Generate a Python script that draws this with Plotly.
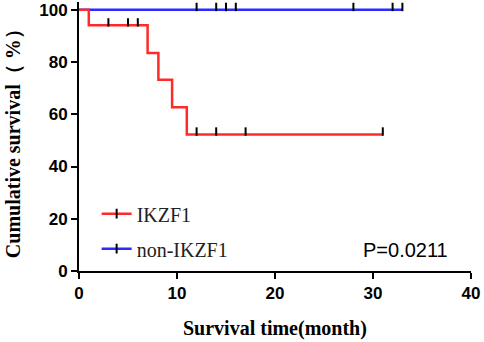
import numpy as np
import plotly.graph_objects as go

# ---- data ----
ikzf1_time = [0, 1, 7, 8.1, 9.5, 11, 31]
ikzf1_surv = [100, 94.1, 83.5, 73.2, 62.7, 52.3, 52.3]
ikzf1_censor = [3, 5, 6, 12, 14, 17, 31]

non_time = [0, 33]
non_surv = [100, 100]
non_censor = [12, 14, 15, 16, 28, 32, 33]

x_ticks = [0, 10, 20, 30, 40]
y_ticks = [0, 20, 40, 60, 80, 100]
p_text = "P=0.0211"
x_title = "Survival time(month)"
y_title = "Cumulative survival（ %）"

RED = "#FF2B2B"
BLUE = "#2B2BFF"
TICK_RISE = 1.1  # censor tick drawn just above the curve


def step_value(times, surv, t):
    idx = np.searchsorted(np.array(times), t, side="right") - 1
    return surv[idx]


fig = go.Figure()

# curves (blue first so red is on top)
for times, surv, cens, col in [
    (non_time, non_surv, non_censor, BLUE),
    (ikzf1_time, ikzf1_surv, ikzf1_censor, RED),
]:
    fig.add_trace(go.Scatter(
        x=times, y=surv, mode="lines", line=dict(color=col, width=2.5, shape="hv"),
        showlegend=False, cliponaxis=False, hoverinfo="skip"))
    cy = [step_value(times, surv, t) + TICK_RISE for t in cens]
    fig.add_trace(go.Scatter(
        x=cens, y=cy, mode="markers",
        marker=dict(symbol="line-ns", size=6, line=dict(color="black", width=2)),
        showlegend=False, cliponaxis=False, hoverinfo="skip"))

# legend entries
for name, col in [("IKZF1", RED), ("non-IKZF1", BLUE)]:
    fig.add_trace(go.Scatter(
        x=[None], y=[None], mode="lines+markers", name=name, legendgroup=name,
        line=dict(color=col, width=2.5),
        marker=dict(symbol="line-ns", size=7, line=dict(color="black", width=2))))

fig.add_annotation(x=33.3, y=8, xref="x", yref="y", text=p_text, showarrow=False,
                   font=dict(family="Liberation Sans, Arial", size=20, color="black"))

title_font = dict(family="Liberation Serif, Times New Roman", size=20, color="black",
                  weight="bold")
fig.add_annotation(x=0.5, y=0, xref="paper", yref="paper", text=x_title, showarrow=False,
                   yshift=-57, yanchor="middle", font=title_font)
fig.add_annotation(x=0, y=0.49, xref="paper", yref="paper", text=y_title, showarrow=False,
                   textangle=-90, xshift=-66, xanchor="center", font=title_font)

axis_common = dict(showline=True, linecolor="black", linewidth=2, ticks="outside",
                   ticklen=6, tickwidth=2, tickcolor="black", showgrid=False, zeroline=False,
                   automargin=False,
                   tickfont=dict(family="Liberation Sans, Arial", size=17, color="black",
                                 weight="bold"))

fig.update_layout(
    width=484, height=342,
    margin=dict(l=79, r=13, t=2, b=71),
    plot_bgcolor="white", paper_bgcolor="white",
    xaxis=dict(range=[0, 40], tickvals=x_ticks, **axis_common),
    yaxis=dict(range=[0, 103], tickvals=y_ticks, **axis_common),
    legend=dict(x=0.045, y=0.2855, xanchor="left", yanchor="top", traceorder="grouped",
                tracegroupgap=6, itemwidth=30, bgcolor="rgba(0,0,0,0)",
                font=dict(family="Liberation Serif, Times New Roman", size=20, color="#222")),
)

fig.write_html("out.html", config={"displayModeBar": False},
               post_script="document.body.style.margin='0';")
